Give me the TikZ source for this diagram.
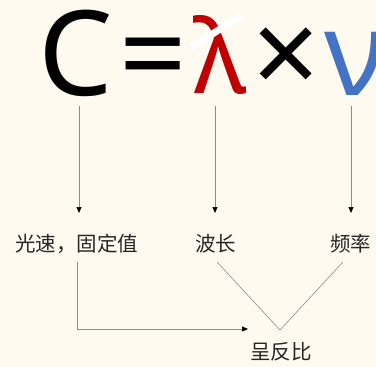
\documentclass[tikz,border=0pt]{standalone}
\usepackage{fontspec}
\setmainfont{Noto Sans}
\newfontfamily\cjk{Noto Sans CJK SC}
\usetikzlibrary{arrows.meta}
\definecolor{bg}{HTML}{FEFAF0}
\definecolor{lamred}{HTML}{C00000}
\definecolor{nublue}{HTML}{4472C4}
\definecolor{linegray}{HTML}{8C8C8C}
\tikzset{
  big/.style={font=\fontsize{118}{118}\selectfont, inner sep=0pt, anchor=base},
  lbl/.style={font=\cjk\fontsize{20.5}{20.5}\selectfont, inner sep=0pt, text=black!85},
  arr/.style={draw=linegray, line width=0.7pt, -{Triangle[length=6pt,width=5pt,fill=black,color=black]}},
  plain/.style={draw=linegray, line width=0.6pt}
}
\begin{document}
\begin{tikzpicture}[x=1pt,y=-1pt]
\fill[bg] (0,0) rectangle (376,367);
\useasboundingbox (0,0) rectangle (376,367);
% formula
\node[big] (C) at (75.5,95) {C};
\node[big] (eq) at (153.5,95) {=};
\node[big, text=lamred, font=\fontsize{102}{102}\selectfont] (lam) at (220,93) {λ};
\node[big] (times) at (286,95) {×};
\node[big, text=nublue, anchor=base west] (nu) at (324,95) {ν};
\draw[white, line width=7pt] (192,47) -- (242,15);
% labels
\node[lbl] (l1) at (77,244) {光速，固定值};
\node[lbl] (l2) at (216,244) {波长};
\node[lbl] (l3) at (351,244) {频率};
\node[lbl] (l4) at (281,352) {呈反比};
% arrow endpoints
\coordinate (a1) at (79,106);
\coordinate (b1) at (79,213);
\coordinate (a2) at (215,106);
\coordinate (b2) at (215,213);
\coordinate (a3) at (351,106);
\coordinate (b3) at (351,213);
\draw[arr] (a1) -- (b1);
\draw[arr] (a2) -- (b2);
\draw[arr] (a3) -- (b3);
% lower connectors
\coordinate (c1) at (77,262);
\coordinate (c2) at (248,329);
\draw[arr] (c1) |- (c2);
\coordinate (v) at (280,330);
\coordinate (v1) at (217,262);
\coordinate (v2) at (343,262);
\draw[plain] (v1) -- (v) -- (v2);
\end{tikzpicture}
\end{document}
